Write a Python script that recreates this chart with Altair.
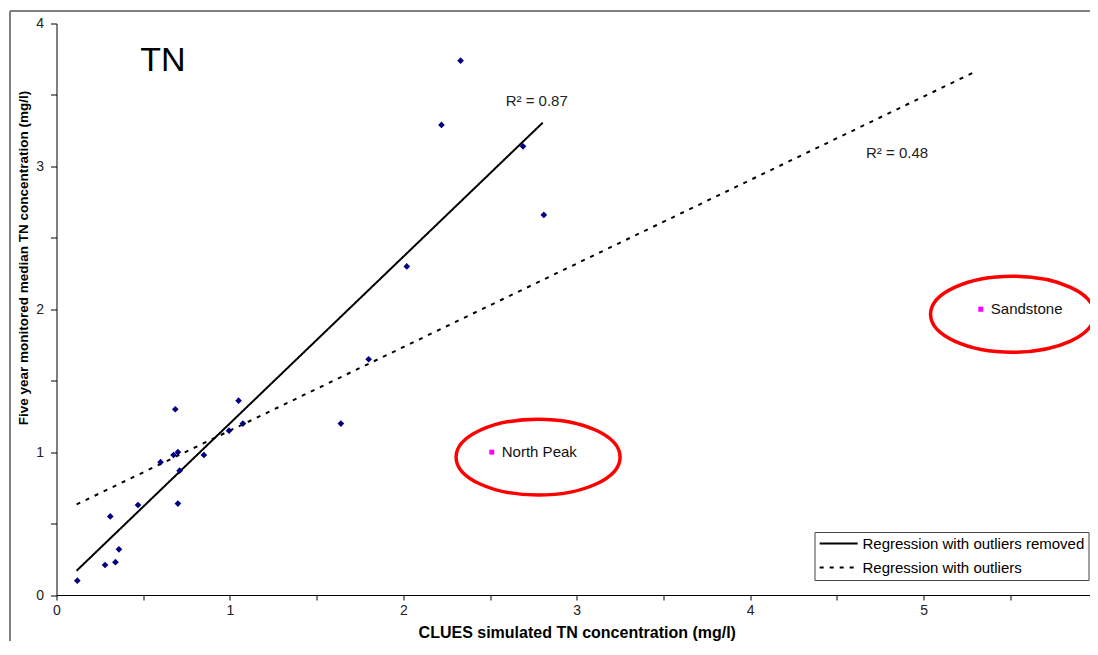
import altair as alt
import pandas as pd

FONT = "Liberation Sans"

# Monitored sites (CLUES simulated vs monitored median TN)
site_x = [0.12, 0.28, 0.31, 0.34, 0.36, 0.47, 0.60, 0.685, 0.675, 0.70, 0.71, 0.70,
          0.85, 0.995, 1.05, 1.075, 1.64, 1.80, 2.02, 2.22, 2.33, 2.69, 2.81]
site_y = [0.10, 0.21, 0.55, 0.23, 0.32, 0.63, 0.93, 1.30, 0.98, 1.00, 0.87, 0.64,
          0.98, 1.15, 1.36, 1.20, 1.20, 1.65, 2.30, 3.29, 3.74, 3.14, 2.66]

# Outlier sites
outlier_names = ["North Peak", "Sandstone"]
outlier_x = [2.51, 5.33]
outlier_y = [1.00, 2.00]

# Red ellipses highlighting the outliers (centres)
ellipse_x = [2.777, 5.513]
ellipse_y = [0.965, 1.965]

# Regression lines (end points)
reg_series = ["Regression with outliers removed", "Regression with outliers removed",
              "Regression with outliers", "Regression with outliers"]
reg_x = [0.116, 2.804, 0.116, 5.31]
reg_y = [0.17, 3.306, 0.634, 3.67]

# R² annotations
r2_text = ["R\u00b2 = 0.87", "R\u00b2 = 0.48"]
r2_x = [2.59, 4.668]
r2_y = [3.42, 3.056]

# Panel label
panel_text = ["TN"]
panel_x = [0.614]
panel_y = [3.671]

x_ticks = [0, 0.5, 1, 1.5, 2, 2.5, 3, 3.5, 4, 4.5, 5, 5.5, 6]
y_ticks = [0, 0.5, 1, 1.5, 2, 2.5, 3, 3.5, 4]

sites = pd.DataFrame({"x": site_x, "y": site_y})
outliers = pd.DataFrame({"x": outlier_x, "y": outlier_y, "name": outlier_names})
ellipses = pd.DataFrame({"x": ellipse_x, "y": ellipse_y})
regs = pd.DataFrame({"x": reg_x, "y": reg_y, "series": reg_series})
r2 = pd.DataFrame({"x": r2_x, "y": r2_y, "t": r2_text})
panel = pd.DataFrame({"x": panel_x, "y": panel_y, "t": panel_text})

xaxis = alt.Axis(
    values=x_ticks, format="~g",
    labelExpr="datum.value % 1 == 0 ? datum.label : ''",
    title="CLUES simulated TN concentration (mg/l)",
    titleFont=FONT, titleFontSize=16, titleFontWeight="bold", titleColor="black",
    titleY=42, titleBaseline="alphabetic",
    labelFont=FONT, labelFontSize=14, labelColor="#222", labelPadding=3,
    labelFlush=False, labelOverlap=False,
    tickSize=5, tickColor="black", domainColor="black", grid=False,
)
yaxis = alt.Axis(
    values=y_ticks, format="~g",
    labelExpr="datum.value % 1 == 0 ? datum.label : ''",
    title="Five year monitored median TN concentration (mg/l)",
    titleFont=FONT, titleFontSize=13.5, titleFontWeight="bold", titleColor="black",
    titleAngle=270, titleX=-29, titleY=234, titleAlign="center", titleBaseline="alphabetic",
    labelFont=FONT, labelFontSize=14, labelColor="#222", labelPadding=7,
    labelFlush=False, labelOverlap=False,
    tickSize=6, tickColor="black", domainColor="black", grid=False,
)

X = alt.X("x:Q", scale=alt.Scale(domain=[0, 6], nice=False, zero=False), axis=xaxis)
Y = alt.Y("y:Q", scale=alt.Scale(domain=[0, 4], nice=False, zero=False), axis=yaxis)

one = alt.Data(values=[{"a": 1}])
frame_left = alt.Chart(one).mark_rule(color="#808080", strokeWidth=2).encode(
    x=alt.value(-46.5), y=alt.value(-12.5), y2=alt.value(800)
)
frame_top = alt.Chart(one).mark_rule(color="#808080", strokeWidth=2).encode(
    x=alt.value(-46.5), x2=alt.value(1200), y=alt.value(-12.5)
)

lines = alt.Chart(regs).mark_line(color="black", strokeWidth=2).encode(
    x=X, y=Y,
    strokeDash=alt.StrokeDash(
        "series:N",
        scale=alt.Scale(domain=["Regression with outliers removed", "Regression with outliers"],
                        range=[[1, 0], [4, 6]]),
        legend=alt.Legend(
            title=None, orient="none", legendX=758, legendY=508.5, direction="vertical",
            symbolType="M-1,0 L5,0", symbolSize=160, symbolStrokeWidth=2,
            symbolStrokeColor="black",
            labelFont=FONT, labelFontSize=15, labelColor="black", labelLimit=400,
            padding=4, rowPadding=8, labelOffset=29,
            strokeColor="#444", fillColor="white",
        ),
    ),
)

pts = alt.Chart(sites).mark_point(
    shape="diamond", filled=True, size=45, color="#000080", opacity=1
).encode(x=X, y=Y)

ell = alt.Chart(ellipses).mark_point(
    shape="M-1,0 A1,0.463 0 1,1 1,0 A1,0.463 0 1,1 -1,0 Z",
    filled=False, size=26896, stroke="#ff0000", strokeWidth=3.5, opacity=1
).encode(x=X, y=Y)

out_pts = alt.Chart(outliers).mark_point(
    shape="square", filled=True, size=25, color="#ff00ff", opacity=1
).encode(x=X, y=Y)

out_lbl = alt.Chart(outliers).mark_text(
    align="left", baseline="middle", dx=10, font=FONT, fontSize=15, color="#111"
).encode(x=X, y=Y, text="name:N")

r2_lbl = alt.Chart(r2).mark_text(
    align="left", baseline="alphabetic", font=FONT, fontSize=15, color="#222"
).encode(x=X, y=Y, text="t:N")

panel_lbl = alt.Chart(panel).mark_text(
    align="center", baseline="alphabetic", font=FONT, fontSize=34, color="black"
).encode(x=X, y=Y, text="t:N")

chart = alt.layer(frame_left, frame_top, lines, pts, ell, out_pts, out_lbl, r2_lbl, panel_lbl).properties(
    width=1040.5, height=571.5,
    padding={"left": 48.5, "top": 15.5, "right": -7.5, "bottom": 46},
    autosize=alt.AutoSizeParams(type="none"),
    background="white",
).configure_view(strokeWidth=0)

chart.save("out.html", embed_options={"renderer": "svg", "actions": False})
